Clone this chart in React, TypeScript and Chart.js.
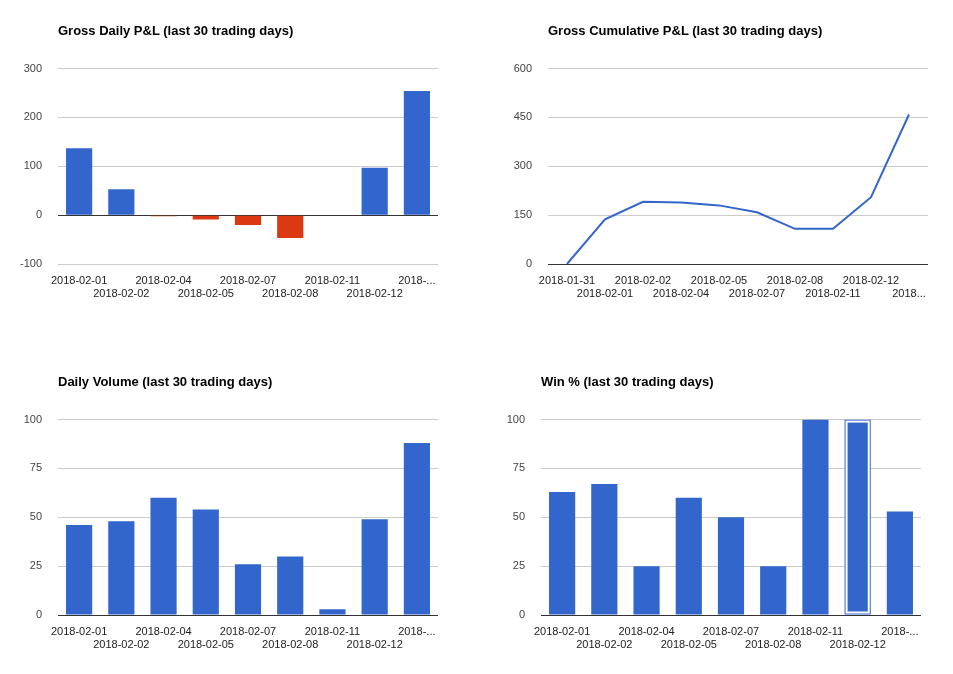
import React, { useEffect, useRef } from "react";
import { Chart, registerables } from "chart.js";
Chart.register(...registerables);

const dailyDates = ["2018-02-01", "2018-02-02", "2018-02-04", "2018-02-05", "2018-02-07", "2018-02-08", "2018-02-11", "2018-02-12", "2018-02-13"];
const dailyPnl = [137, 53, -2, -9, -20, -47, 0, 97, 254];
const cumDates = ["2018-01-31", "2018-02-01", "2018-02-02", "2018-02-04", "2018-02-05", "2018-02-07", "2018-02-08", "2018-02-11", "2018-02-12", "2018-02-13"];
const cumPnl = [0, 137, 191, 189, 180, 159, 108, 108, 205, 459];
const volume = [46, 48, 60, 54, 26, 30, 3, 49, 88];
const winPct = [63, 67, 25, 60, 50, 25, 100, 100, 53];
const highlightIndex = 7;

const BLUE = "#3366cc";
const RED = "#dc3912";
const FONT = "'Liberation Sans', Arial, sans-serif";

function makeOptions(min: number, max: number, step: number, lastLabel: string, offset = true): any {
  return {
    animation: false,
    responsive: false,
    maintainAspectRatio: false,
    layout: { padding: { top: 10, right: 10, left: 0, bottom: 0 } },
    plugins: { legend: { display: false }, tooltip: { enabled: false }, title: { display: false } },
    scales: {
      x: {
        offset,
        grid: { display: false },
        border: { display: false },
        afterFit: (s: any) => { s.height = 52; },
        ticks: {
          autoSkip: false, maxRotation: 0, minRotation: 0, padding: 2,
          color: "#222", font: { family: FONT, size: 11 },
          callback: function (this: any, v: any, i: number, arr: any[]) {
            const lab = i === arr.length - 1 ? lastLabel : this.getLabelForValue(v);
            return i % 2 === 1 ? ["", lab] : lab;
          },
        },
      },
      y: {
        min, max,
        afterFit: (s: any) => { s.width = 50; },
        border: { display: false },
        grid: {
          color: (c: any) => (c.tick && c.tick.value === 0 ? "#333" : "#cccccc"),
          lineWidth: 1, drawTicks: false,
        },
        ticks: { stepSize: step, padding: 16, color: "#444", font: { family: FONT, size: 11 } },
      },
    },
  };
}

const highlightPlugin = {
  id: "hl",
  afterDatasetsDraw(chart: any) {
    if (chart.canvas.dataset.hl !== "1") return;
    const el = chart.getDatasetMeta(0).data[highlightIndex];
    if (!el) return;
    const { x, y, base, width } = el.getProps(["x", "y", "base", "width"], true);
    const ctx = chart.ctx;
    ctx.save();
    ctx.strokeStyle = "#fff";
    ctx.lineWidth = 2;
    ctx.strokeRect(x - width / 2 + 2, y + 2, width - 4, base - y - 4);
    ctx.restore();
  },
};

function Panel({ left, top, title, config, hl }: any) {
  const ref = useRef<HTMLCanvasElement>(null);
  useEffect(() => {
    const c = new Chart(ref.current!, { ...config, plugins: [highlightPlugin] });
    return () => c.destroy();
  }, []);
  return (
    <>
      <div style={{ position: "fixed", left: left + 50, top: top - 33, font: `bold 13px ${FONT}`, color: "#000", whiteSpace: "nowrap" }}>{title}</div>
      <div style={{ position: "fixed", left, top: top - 10, width: 440, height: 270 }}>
        <canvas ref={ref} width={440} height={270} data-hl={hl ? "1" : "0"} style={{ width: 440, height: 270 }} />
      </div>
    </>
  );
}

export default function App() {
  const c1 = {
    type: "bar",
    data: { labels: dailyDates, datasets: [{ data: dailyPnl, backgroundColor: dailyPnl.map((v) => (v < 0 ? RED : BLUE)), barPercentage: 1, categoryPercentage: 0.62 }] },
    options: makeOptions(-100, 300, 100, "2018-..."),
  };
  const c2 = {
    type: "line",
    data: { labels: cumDates, datasets: [{ data: cumPnl, borderColor: BLUE, borderWidth: 2, pointRadius: 0, tension: 0, fill: false }] },
    options: makeOptions(0, 600, 150, "2018..."),
  };
  const c3 = {
    type: "bar",
    data: { labels: dailyDates, datasets: [{ data: volume, backgroundColor: BLUE, barPercentage: 1, categoryPercentage: 0.62 }] },
    options: makeOptions(0, 100, 25, "2018-..."),
  };
  const c4 = {
    type: "bar",
    data: { labels: dailyDates, datasets: [{ data: winPct, backgroundColor: BLUE, barPercentage: 1, categoryPercentage: 0.62 }] },
    options: makeOptions(0, 100, 25, "2018-..."),
  };
  return (
    <div>
      <Panel left={8} top={56} title="Gross Daily P&L (last 30 trading days)" config={c1} />
      <Panel left={498} top={56} title="Gross Cumulative P&L (last 30 trading days)" config={c2} />
      <Panel left={8} top={407} title="Daily Volume (last 30 trading days)" config={c3} />
      <Panel left={491} top={407} title="Win % (last 30 trading days)" config={c4} hl />
    </div>
  );
}
